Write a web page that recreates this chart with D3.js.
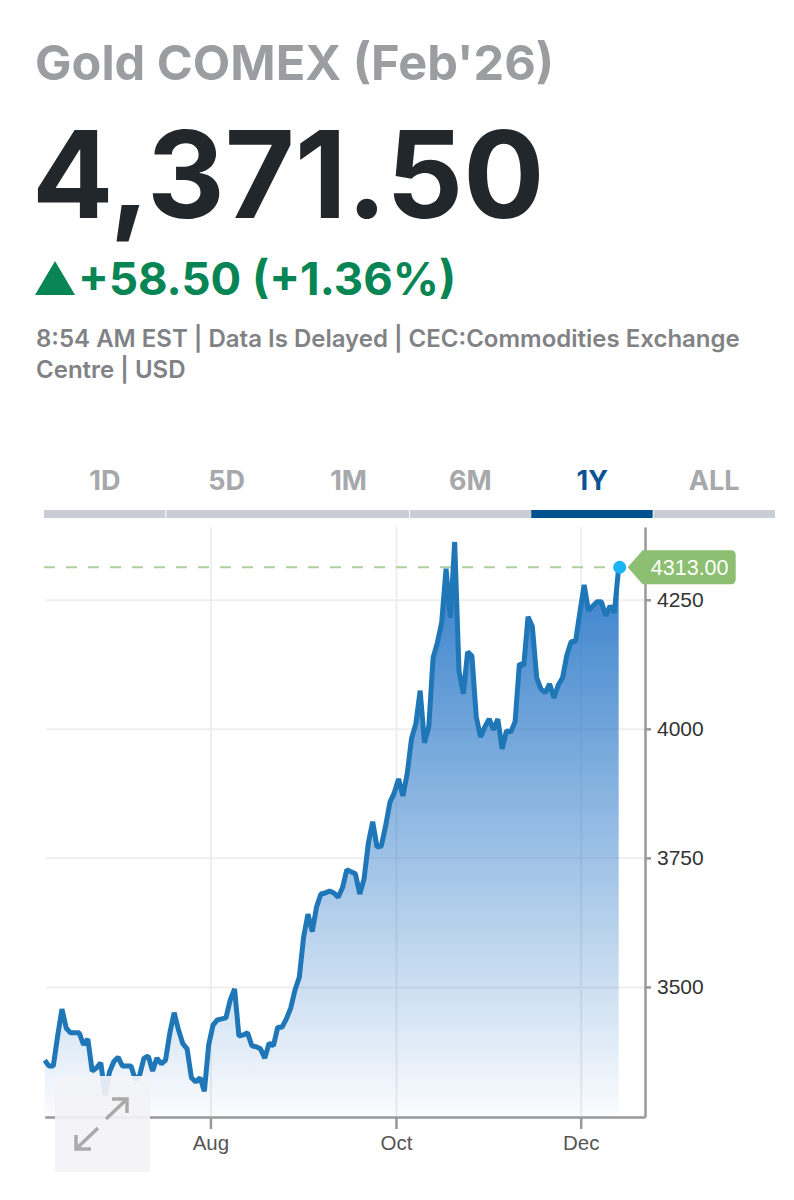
<!DOCTYPE html>
<html>
<head>
<meta charset="utf-8">
<script src="https://cdn.jsdelivr.net/npm/d3@7"></script>
<style>
    body { margin: 0; background: #fff; }
    text { font-family: Inter, "Open Sans", sans-serif; }
    .axis text { font-family: "Liberation Sans", Arial, sans-serif; }
    .axis path, .axis line { stroke: #999; }
    .grid line { stroke: #eee; stroke-width: 2; }
    .grid path { display: none; }
</style>
</head>
<body>
<script>
'use strict';

// daily closes, one per trading day
const closes = [
    3358, 3347, 3347, 3405, 3457, 3420, 3411, 3411, 3411, 3388,
    3399, 3337, 3343, 3353, 3291, 3335, 3355, 3364, 3347, 3347,
    3347, 3320, 3329, 3362, 3366, 3337, 3362, 3351, 3358, 3411,
    3450, 3417, 3390, 3380, 3324, 3316, 3324, 3298, 3388, 3426,
    3436, 3438, 3440, 3475, 3496, 3405, 3407, 3411, 3386, 3384,
    3380, 3362, 3391, 3386, 3422, 3422, 3438, 3459, 3494, 3519,
    3597, 3641, 3607, 3655, 3680, 3682, 3686, 3682, 3674, 3692,
    3727, 3723, 3719, 3680, 3709, 3779, 3820, 3771, 3773, 3812,
    3858, 3876, 3903, 3870, 3913, 3981, 4010, 4074, 3973, 4004,
    4138, 4167, 4207, 4310, 4215, 4362, 4112, 4068, 4149, 4141,
    4023, 3984, 4004, 4019, 3998, 4019, 3961, 3996, 3994, 4014,
    4126, 4122, 4217, 4198, 4099, 4077, 4070, 4087, 4060, 4085,
    4099, 4143, 4169, 4169, 4225, 4279, 4229, 4238, 4246, 4246,
    4219, 4238, 4225, 4313
];
const yTicks = [3500, 3750, 4000, 4250];
const monthLabels = ['Aug', 'Oct', 'Dec'];
const monthIndex = [38.4, 81.4, 124.2];
const tabs = ['1D', '5D', '1M', '6M', '1Y', 'ALL'];
const activeTab = '1Y';
const lastPrice = 4313;

const svg = d3.select('body').append('svg')
    .attr('width', 794)
    .attr('height', 1200);

// header
function label (x, y, str, size, weight, color) {
    return svg.append('text')
        .attr('x', x)
        .attr('y', y)
        .attr('font-size', size)
        .attr('font-weight', weight)
        .attr('fill', color)
        .text(str);
}

label(35, 80, "Gold COMEX (Feb'26)", 48.7, 700, '#9b9da0');
label(32, 218, '4,371.50', 120.5, 700, '#22272c');
svg.append('path').attr('d', 'M35,295L55,261L75,295Z').attr('fill', '#078554');
label(78, 295, '+58.50 (+1.36%)', 45.5, 700, '#078554');
label(36, 347, '8:54 AM EST | Data Is Delayed | CEC:Commodities Exchange', 24, 600, '#808285');
label(36, 378, 'Centre | USD', 24, 600, '#808285');

// range tabs
const tabX = d3.scaleBand().domain(tabs).range([44, 775]);

svg.selectAll('.tab').data(tabs).enter().append('text')
    .attr('class', 'tab')
    .attr('x', function (d) { return tabX(d) + tabX.bandwidth() / 2; })
    .attr('y', 490)
    .attr('text-anchor', 'middle')
    .attr('font-size', 27)
    .attr('font-weight', 700)
    .attr('fill', function (d) { return d === activeTab ? '#0b5394' : '#a6a8ab'; })
    .text(function (d) { return d; });

svg.append('rect')
    .attr('x', 44).attr('y', 510)
    .attr('width', 731).attr('height', 8)
    .attr('fill', '#c9ced6');

svg.append('rect')
    .attr('x', tabX(activeTab)).attr('y', 510)
    .attr('width', tabX.bandwidth()).attr('height', 8)
    .attr('fill', '#02528f');

svg.selectAll('.sep').data(['5D', '6M', 'ALL']).enter().append('rect')
    .attr('class', 'sep')
    .attr('x', function (d) { return tabX(d) - 0.5; })
    .attr('y', 510)
    .attr('width', 1).attr('height', 8)
    .attr('fill', '#fff');

// chart
const plotLeft = 44, plotRight = 645, plotTop = 527, plotBottom = 1117;

const x = d3.scaleLinear().domain([0, 139.1]).range([plotLeft + 0.7, plotRight]);
const y = d3.scaleLinear().domain([3248, 4391]).range([plotBottom, plotTop]);

svg.append('g')
    .attr('class', 'grid')
    .attr('transform', 'translate(' + plotRight + ',0)')
    .call(d3.axisLeft(y).tickValues(yTicks).tickSize(plotRight - plotLeft - 2).tickFormat(''));

svg.append('g')
    .attr('class', 'grid')
    .attr('transform', 'translate(0,' + plotBottom + ')')
    .call(d3.axisTop(x).tickValues(monthIndex).tickSize(plotBottom - plotTop).tickFormat(''));

svg.append('line')
    .attr('x1', plotLeft).attr('x2', x(closes.length - 1))
    .attr('y1', y(lastPrice)).attr('y2', y(lastPrice))
    .attr('stroke', '#aecf9e')
    .attr('stroke-width', 2)
    .attr('stroke-dasharray', '11,11');

const grad = svg.append('defs').append('linearGradient')
    .attr('id', 'fill')
    .attr('gradientUnits', 'userSpaceOnUse')
    .attr('x1', 0).attr('x2', 0)
    .attr('y1', y(d3.max(closes))).attr('y2', plotBottom);
grad.append('stop').attr('offset', 0).attr('stop-color', '#2a78c8').attr('stop-opacity', 0.98);
grad.append('stop').attr('offset', 1).attr('stop-color', '#2a78c8').attr('stop-opacity', 0.02);

svg.append('path')
    .datum(closes)
    .attr('fill', 'url(#fill)')
    .attr('d', d3.area()
        .x(function (d, i) { return x(i); })
        .y0(plotBottom)
        .y1(function (d) { return y(d); }));

svg.append('path')
    .datum(closes)
    .attr('fill', 'none')
    .attr('stroke', '#1f77b8')
    .attr('stroke-width', 5)
    .attr('stroke-linejoin', 'bevel')
    .attr('d', d3.line()
        .x(function (d, i) { return x(i); })
        .y(function (d) { return y(d); }));

// axes
const xAxis = svg.append('g')
    .attr('class', 'axis')
    .attr('transform', 'translate(0,' + plotBottom + ')')
    .call(d3.axisBottom(x)
        .tickValues(monthIndex)
        .tickSize(12)
        .tickSizeOuter(0)
        .tickFormat(function (d, i) { return monthLabels[i]; }));
xAxis.selectAll('path, line').attr('stroke-width', 2.5);
xAxis.selectAll('text').attr('font-size', 20.5).attr('fill', '#555').attr('dy', '0.9em');

const yAxis = svg.append('g')
    .attr('class', 'axis')
    .attr('transform', 'translate(' + plotRight + ',0)')
    .call(d3.axisRight(y)
        .tickValues(yTicks)
        .tickSize(6)
        .tickSizeOuter(0)
        .tickPadding(6)
        .tickFormat(d3.format('d')));
yAxis.selectAll('path, line').attr('stroke-width', 2.5);
yAxis.selectAll('text').attr('font-size', 21).attr('fill', '#333');

// last price marker and tag
const lastX = x(closes.length - 1) + 1;
const lastY = y(lastPrice);

svg.append('path')
    .attr('d', 'M' + (lastX + 8) + ',' + lastY + 'L' + (lastX + 23) + ',' + (lastY - 17) +
        'H' + (lastX + 111) + 'q5,0 5,5V' + (lastY + 12) + 'q0,5 -5,5H' + (lastX + 23) + 'Z')
    .attr('fill', '#8cbf72');

svg.append('text')
    .attr('x', lastX + 70)
    .attr('y', lastY + 8)
    .attr('text-anchor', 'middle')
    .attr('font-size', 21.5)
    .attr('fill', '#fff')
    .style('font-family', '"Liberation Sans", Arial, sans-serif')
    .text(d3.format('.2f')(lastPrice));

svg.append('circle')
    .attr('cx', lastX).attr('cy', lastY)
    .attr('r', 6.5)
    .attr('fill', '#1cb4f5');

// expand button
svg.append('rect')
    .attr('x', 55).attr('y', 1076)
    .attr('width', 95).attr('height', 96)
    .attr('fill', '#f3f3f7')
    .attr('fill-opacity', 0.92);

svg.append('path')
    .attr('d', 'M106,1119L127,1099M112,1099H127V1113M98,1128L76,1149M76,1135V1149H91')
    .attr('fill', 'none')
    .attr('stroke', '#aaa')
    .attr('stroke-width', 3.5);
</script>
</body>
</html>
